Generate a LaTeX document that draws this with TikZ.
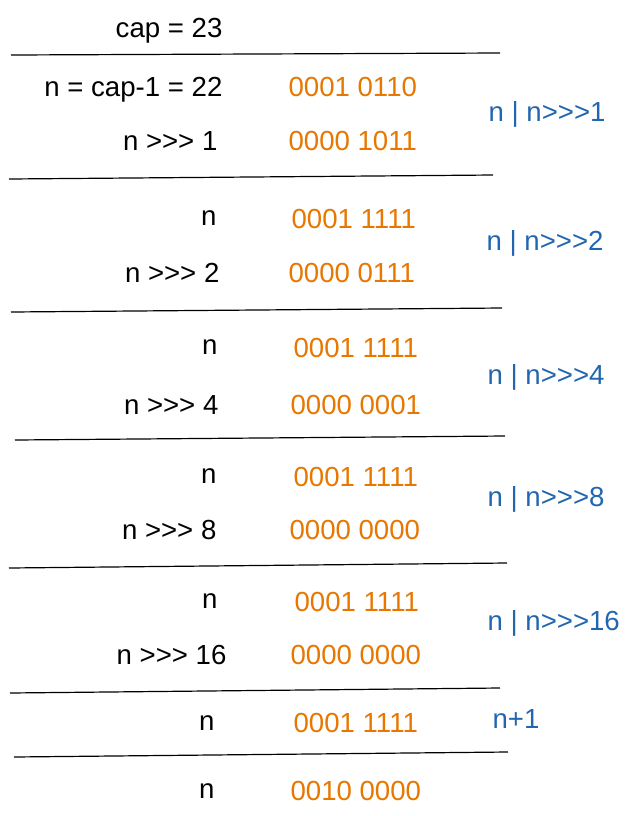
\documentclass[tikz,border=0pt]{standalone}
\usepackage{fontspec}
\setmainfont{Liberation Sans}
\newlength{\du}
\setlength{\du}{0.5pt}
\tikzset{
  txt/.style={inner sep=0pt,font=\fontsize{13.8}{16}\selectfont},
  lbl/.style={txt,anchor=base east},
  bits/.style={txt,anchor=base west,text=bitcolor},
  oper/.style={txt,anchor=base west,text=opcolor}
}
\definecolor{bitcolor}{rgb}{0.905882, 0.466667, 0.000000}
\definecolor{opcolor}{rgb}{0.129412, 0.400000, 0.682353}

\begin{document}
\begin{tikzpicture}
\pgftransformxscale{1.000000}
\pgftransformyscale{-1.000000}
\useasboundingbox (0\du,0\du) rectangle (632\du,816\du);
\definecolor{dialinecolor}{rgb}{0.000000, 0.000000, 0.000000}
\pgfsetstrokecolor{dialinecolor}
\pgfsetlinewidth{1.200000\du}
\pgfsetbuttcap
% setfont left to latex
\node[lbl] (cap) at (223.000000\du,37.000000\du){cap = 23};
\draw (11.000000\du,55.000000\du)--(500.000000\du,53.000000\du);
\node[lbl] (n1) at (223.000000\du,96.000000\du){n = cap-1 = 22};
\node[bits] (n1bits) at (288.000000\du,96.000000\du){0001 0110};
\node[lbl] (s1) at (218.000000\du,150.000000\du){n >{}>{}> 1};
\node[bits] (s1bits) at (288.000000\du,150.000000\du){0000 1011};
\node[oper] (op1) at (488.000000\du,121.000000\du){n | n>{}>{}>1};
\draw (9.000000\du,179.000000\du)--(493.000000\du,175.000000\du);
\node[lbl] (n2) at (217.000000\du,225.000000\du){n};
\node[bits] (n2bits) at (291.000000\du,228.000000\du){0001 1111};
\node[lbl] (s2) at (220.000000\du,282.000000\du){n >{}>{}> 2};
\node[bits] (s2bits) at (288.000000\du,282.000000\du){0000 0111};
\node[oper] (op2) at (486.000000\du,250.000000\du){n | n>{}>{}>2};
\draw (11.000000\du,312.000000\du)--(502.000000\du,308.000000\du);
\node[lbl] (n3) at (218.000000\du,354.000000\du){n};
\node[bits] (n3bits) at (293.000000\du,357.000000\du){0001 1111};
\node[lbl] (s3) at (219.000000\du,414.000000\du){n >{}>{}> 4};
\node[bits] (s3bits) at (290.000000\du,414.000000\du){0000 0001};
\node[oper] (op3) at (487.000000\du,384.000000\du){n | n>{}>{}>4};
\draw (15.000000\du,440.000000\du)--(505.000000\du,436.000000\du);
\node[lbl] (n4) at (217.000000\du,483.000000\du){n};
\node[bits] (n4bits) at (293.000000\du,486.000000\du){0001 1111};
\node[lbl] (s4) at (217.000000\du,539.000000\du){n >{}>{}> 8};
\node[bits] (s4bits) at (289.000000\du,539.000000\du){0000 0000};
\node[oper] (op4) at (487.000000\du,506.000000\du){n | n>{}>{}>8};
\draw (9.000000\du,568.000000\du)--(507.000000\du,563.000000\du);
\node[lbl] (n5) at (218.000000\du,608.000000\du){n};
\node[bits] (n5bits) at (294.000000\du,611.000000\du){0001 1111};
\node[lbl] (s5) at (227.000000\du,664.000000\du){n >{}>{}> 16};
\node[bits] (s5bits) at (290.000000\du,664.000000\du){0000 0000};
\node[oper] (op5) at (487.000000\du,630.000000\du){n | n>{}>{}>16};
\draw (10.000000\du,693.000000\du)--(500.000000\du,688.000000\du);
\node[lbl] (n6) at (215.000000\du,730.000000\du){n};
\node[bits] (n6bits) at (293.000000\du,732.000000\du){0001 1111};
\node[oper] (inc) at (492.000000\du,728.000000\du){n+1};
\draw (14.000000\du,757.000000\du)--(508.000000\du,752.000000\du);
\node[lbl] (n7) at (215.000000\du,798.000000\du){n};
\node[bits] (n7bits) at (290.000000\du,800.000000\du){0010 0000};
\end{tikzpicture}
\end{document}
